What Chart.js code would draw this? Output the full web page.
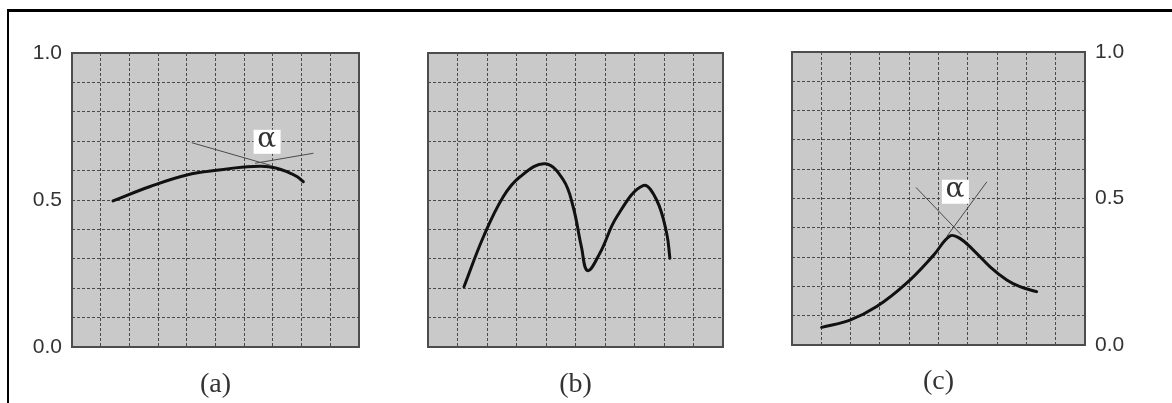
<!DOCTYPE html>
<html lang="en">
<head>
    <meta charset="UTF-8">
    <title>Curves (a) (b) (c)</title>
    <script src="https://cdn.jsdelivr.net/npm/chart.js"></script>
    <style>
        body {
            margin: 0;
            background: #fff;
            width: 1172px;
            height: 403px;
            overflow: hidden;
            position: relative;
        }
        .frame {
            position: absolute;
            left: 7px;
            top: 9px;
            right: -20px;
            bottom: -20px;
            border-top: 3px solid #000;
            border-left: 2px solid #000;
        }
        .panel {
            position: absolute;
            top: 0;
            height: 403px;
        }
    </style>
</head>
<body>
    <div class="frame"></div>
    <div class="panel" style="left:0;width:380px"><canvas id="chartA"></canvas></div>
    <div class="panel" style="left:380px;width:380px"><canvas id="chartB"></canvas></div>
    <div class="panel" style="left:760px;width:412px"><canvas id="chartC"></canvas></div>

    <script>
        // axis ranges and tick labels
        const xMin = 0, xMax = 10;
        const yMin = 0, yMax = 1;
        const yTickValues = [0, 0.5, 1.0];
        const captions = ['(a)', '(b)', '(c)'];

        // (a) curve + tangents
        const curveAx = [1.43, 2.7, 4.0, 5.2, 6.0, 6.6, 7.1, 7.5, 7.85, 8.06];
        const curveAy = [0.497, 0.545, 0.585, 0.603, 0.612, 0.615, 0.609, 0.596, 0.579, 0.562];
        const tanA1x = [4.17, 6.95];
        const tanA1y = [0.695, 0.617];
        const tanA2x = [6.38, 8.41];
        const tanA2y = [0.625, 0.659];
        const alphaA = [6.78, 0.698];

        // (b) curve
        const curveBx = [1.22, 1.88, 2.55, 3.12, 3.97, 4.59, 4.92, 5.2, 5.41, 5.83, 6.4, 7.29, 7.75, 8.09, 8.2];
        const curveBy = [0.205, 0.375, 0.511, 0.579, 0.623, 0.568, 0.477, 0.341, 0.26, 0.32, 0.443, 0.549, 0.5, 0.387, 0.302];

        // (c) curve + tangents
        const curveCx = [1.01, 1.98, 2.89, 3.91, 4.82, 5.39, 5.73, 6.19, 6.76, 7.33, 7.78, 8.35];
        const curveCy = [0.06, 0.085, 0.131, 0.211, 0.305, 0.372, 0.364, 0.324, 0.267, 0.222, 0.199, 0.182];
        const tanC1x = [4.23, 5.79];
        const tanC1y = [0.538, 0.375];
        const tanC2x = [5.28, 6.65];
        const tanC2y = [0.37, 0.557];
        const alphaC = [5.56, 0.523];

        function toPoints(xs, ys) {
            return xs.map((x, i) => ({ x: x, y: ys[i] }));
        }

        function curveSet(xs, ys) {
            return {
                data: toPoints(xs, ys),
                borderColor: '#111',
                borderWidth: 3,
                pointRadius: 0,
                tension: 0.4,
                borderCapStyle: 'round',
                fill: false
            };
        }

        function tangentSet(xs, ys) {
            return {
                data: toPoints(xs, ys),
                borderColor: '#4a4a4a',
                borderWidth: 1,
                pointRadius: 0,
                tension: 0,
                fill: false
            };
        }

        // grey plot background + darker frame
        const plotFrame = {
            id: 'plotFrame',
            beforeDraw(chart) {
                const a = chart.chartArea, ctx = chart.ctx;
                ctx.save();
                ctx.fillStyle = '#c9c9c9';
                ctx.fillRect(a.left, a.top, a.right - a.left, a.bottom - a.top);
                ctx.restore();
            },
            beforeDatasetsDraw(chart) {
                const a = chart.chartArea, ctx = chart.ctx;
                ctx.save();
                ctx.strokeStyle = '#4d4d4d';
                ctx.lineWidth = 2;
                ctx.strokeRect(a.left, a.top, a.right - a.left, a.bottom - a.top);
                ctx.restore();
            }
        };

        // white box with alpha symbol
        const alphaLabel = {
            id: 'alphaLabel',
            afterDatasetsDraw(chart, args, opts) {
                if (!opts.at) return;
                const ctx = chart.ctx;
                const px = chart.scales.x.getPixelForValue(opts.at[0]);
                const py = chart.scales.y.getPixelForValue(opts.at[1]);
                ctx.save();
                ctx.fillStyle = '#fff';
                ctx.fillRect(px - 13, py - 12, 27, 24);
                ctx.fillStyle = '#333';
                ctx.font = '28px "DejaVu Serif"';
                ctx.textAlign = 'center';
                ctx.textBaseline = 'middle';
                ctx.fillText('\u03b1', px, py - 2);
                ctx.restore();
            }
        };

        function makeChart(id, cfg) {
            const ctx = document.getElementById(id).getContext('2d');
            return new Chart(ctx, {
                type: 'line',
                data: { datasets: cfg.datasets },
                options: {
                    responsive: true,
                    maintainAspectRatio: false,
                    animation: false,
                    layout: { padding: cfg.padding },
                    plugins: {
                        legend: { display: false },
                        tooltip: { enabled: false },
                        alphaLabel: { at: cfg.alpha }
                    },
                    scales: {
                        x: {
                            type: 'linear',
                            min: xMin,
                            max: xMax,
                            ticks: { display: false, stepSize: 1 },
                            grid: { color: 'rgba(60,60,60,0.9)', lineWidth: 1, drawTicks: false },
                            border: { display: false, dash: [3, 2] },
                            title: {
                                display: true,
                                text: cfg.caption,
                                color: '#333',
                                font: { family: '"Liberation Serif"', size: 28 },
                                padding: { top: 0, bottom: cfg.captionPad }
                            },
                            afterFit: s => { s.height = cfg.xHeight; }
                        },
                        y: {
                            type: 'linear',
                            position: cfg.yPos,
                            min: yMin,
                            max: yMax,
                            ticks: {
                                display: cfg.showY,
                                stepSize: 0.1,
                                autoSkip: false,
                                padding: 10,
                                color: '#333',
                                font: { family: '"Liberation Sans"', size: 21 },
                                callback: v => {
                                    const hit = yTickValues.find(t => Math.abs(t - v) < 1e-6);
                                    return hit === undefined ? '' : hit.toFixed(1);
                                }
                            },
                            grid: { color: 'rgba(60,60,60,0.9)', lineWidth: 1, drawTicks: false },
                            border: { display: false, dash: [3, 2] },
                            afterFit: s => { s.width = cfg.yWidth; }
                        }
                    }
                },
                plugins: [plotFrame, alphaLabel]
            });
        }

        makeChart('chartA', {
            datasets: [tangentSet(tanA1x, tanA1y), tangentSet(tanA2x, tanA2y), curveSet(curveAx, curveAy)],
            alpha: alphaA,
            caption: captions[0],
            captionPad: 2,
            padding: { top: 53, left: 0, right: 21, bottom: 0 },
            xHeight: 56,
            yWidth: 72,
            yPos: 'left',
            showY: true
        });

        makeChart('chartB', {
            datasets: [curveSet(curveBx, curveBy)],
            alpha: null,
            caption: captions[1],
            captionPad: 2,
            padding: { top: 53, left: 0, right: 37, bottom: 0 },
            xHeight: 56,
            yWidth: 48,
            yPos: 'left',
            showY: false
        });

        makeChart('chartC', {
            datasets: [tangentSet(tanC1x, tanC1y), tangentSet(tanC2x, tanC2y), curveSet(curveCx, curveCy)],
            alpha: alphaC,
            caption: captions[2],
            captionPad: 5,
            padding: { top: 52, left: 32, right: 0, bottom: 0 },
            xHeight: 58,
            yWidth: 87,
            yPos: 'right',
            showY: true
        });
    </script>
</body>
</html>
